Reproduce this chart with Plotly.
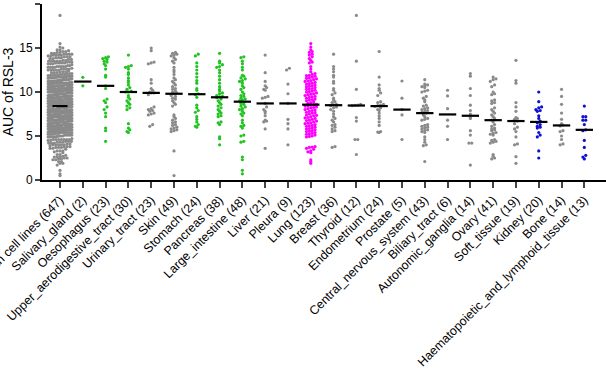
import numpy as np
import plotly.graph_objects as go

categories = ["Human cell lines", "Salivary_gland", "Oesophagus", "Upper_aerodigestive_tract",
              "Urinary_tract", "Skin", "Stomach", "Pancreas", "Large_intestine", "Liver", "Pleura",
              "Lung", "Breast", "Thyroid", "Endometrium", "Prostate", "Central_nervous_system",
              "Biliary_tract", "Autonomic_ganglia", "Ovary", "Soft_tissue", "Kidney", "Bone",
              "Haematopoietic_and_lymphoid_tissue"]

salivary = [11.67, 10.7]
oesophagus = [14.0, 13.9, 13.8, 13.7, 13.5, 13.4, 13.2, 13.0, 12.6, 11.9, 11.7, 10.7, 10.4, 9.2, 9.0,
              8.8, 8.3, 8.0, 7.6, 7.2, 5.9, 5.6, 4.4]
upper_aero = [14.2, 13.0, 12.9, 12.8, 12.6, 12.2, 12.0, 11.6, 11.3, 11.1, 10.8, 10.5, 10.3, 10.1, 10.0,
              10.0, 9.6, 9.4, 9.2, 9.0, 8.8, 8.6, 8.4, 8.2, 8.0, 6.4, 5.9, 5.7, 5.5, 5.4]
urinary = [15.0, 14.7, 13.4, 13.3, 13.2, 11.4, 11.0, 10.4, 10.2, 10.0, 9.9, 9.9, 9.7, 8.3, 8.1, 8.0,
           7.9, 7.8, 7.6, 7.5, 7.4, 6.3, 6.1]
skin = [14.5, 14.4, 14.3, 14.2, 14.1, 13.9, 13.7, 13.5, 13.3, 12.8, 12.5, 12.3, 12.0, 11.6, 11.4, 11.2,
        11.0, 10.8, 10.6, 10.4, 10.3, 10.1, 10.0, 9.9, 9.8, 9.6, 9.5, 9.3, 9.2, 9.0, 8.8, 8.6, 8.4,
        7.4, 7.2, 7.0, 6.8, 6.6, 6.5, 6.3, 6.2, 6.0, 5.9, 5.8, 5.7, 5.6, 5.5, 3.3, 0.5]
stomach = [14.3, 14.1, 13.3, 12.9, 12.5, 12.1, 11.7, 11.3, 11.0, 10.4, 10.2, 9.8, 9.7, 9.4, 8.5, 8.2,
           7.9, 7.7, 7.2, 6.9, 6.6, 6.3, 6.1, 6.0]
pancreas = [14.4, 13.5, 13.3, 13.1, 12.9, 12.8, 12.5, 12.2, 11.8, 11.4, 11.0, 10.6, 10.3, 10.1, 9.9,
            9.8, 9.6, 9.5, 9.45, 9.35, 9.2, 9.0, 8.8, 8.6, 8.4, 8.2, 8.0, 7.8, 7.6, 7.5, 7.3, 7.2,
            6.6, 6.5, 6.3, 4.9, 4.7, 4.0]
large_intestine = [14.0, 13.9, 13.5, 13.2, 12.8, 12.5, 11.9, 11.8, 11.6, 11.5, 11.3, 11.2, 11.0, 10.7,
                   10.5, 10.3, 10.0, 9.8, 9.6, 9.5, 9.3, 9.2, 9.1, 9.0, 8.8, 8.7, 8.6, 8.4, 8.3, 8.1,
                   8.0, 7.8, 7.6, 7.5, 7.3, 6.8, 6.5, 6.2, 6.1, 5.9, 5.1, 5.0, 4.4, 4.3, 2.6, 2.3,
                   1.1, 0.7]
liver = [14.2, 12.2, 11.2, 10.7, 10.5, 10.3, 10.2, 9.5, 9.4, 9.3, 8.7, 8.3, 8.0, 7.8, 7.6, 7.3, 6.8,
         6.7, 6.6, 5.8, 3.6]
pleura = [12.7, 12.5, 10.9, 9.8, 8.7, 6.9, 6.4, 5.8, 4.0]
lung = [15.5, 15.1, 14.8, 14.6, 14.5, 14.3, 14.2, 14.0, 13.8, 13.6, 13.4, 13.3, 12.9, 12.6, 12.3, 12.1,
        12.0, 11.9, 11.85, 11.8, 11.7, 11.6, 11.55, 11.5, 11.4, 11.3, 11.25, 11.2, 11.1, 11.0, 10.95,
        10.9, 10.8, 10.7, 10.65, 10.6, 10.5, 10.4, 10.35, 10.3, 10.2, 10.1, 10.05, 10.0, 9.9, 9.8,
        9.75, 9.7, 9.6, 9.5, 9.45, 9.4, 9.3, 9.2, 9.15, 9.1, 9.0, 8.9, 8.8, 8.7, 8.6, 8.56,
        8.5, 8.45, 8.4, 8.3, 8.25, 8.2, 8.1, 8.0, 7.95, 7.9, 7.8, 7.7, 7.65, 7.6, 7.5, 7.4, 7.35, 7.3,
        7.2, 7.1, 7.05, 7.0, 6.9, 6.8, 6.75, 6.7, 6.6, 6.5, 6.45, 6.4, 6.3, 6.2, 6.15, 6.1, 6.0, 5.9,
        5.85, 5.8, 5.7, 5.6, 5.55, 5.5, 5.4, 5.3, 5.25, 5.2, 5.1, 5.0, 4.95, 4.9,
        3.8, 3.75, 3.7, 3.6, 3.5, 3.3, 3.2, 3.1, 2.3, 2.1, 1.9]
breast = [14.3, 12.9, 12.6, 12.3, 11.9, 11.7, 11.2, 11.0, 10.4, 10.2, 9.9, 9.7, 9.3, 9.1, 8.9, 8.8,
          8.6, 8.55, 8.45, 8.3, 8.2, 8.0, 7.8, 7.5, 7.2, 7.0, 6.8, 6.6, 6.3, 6.2, 6.0, 5.8, 5.6, 5.5,
          3.8, 3.7]
thyroid = [18.7, 13.5, 10.3, 8.6, 8.5, 8.48, 8.45, 7.1, 6.7, 4.6, 4.6, 2.9]
endometrium = [14.6, 11.7, 10.8, 10.4, 10.2, 9.9, 9.6, 8.9, 8.8, 8.6, 8.5, 8.45, 8.35, 8.2, 8.0, 7.9,
               7.6, 7.3, 7.0, 6.6, 6.2, 5.5, 5.45, 5.4]
prostate = [11.25, 9.3, 8.0, 7.4, 4.6]
cns = [11.4, 10.9, 10.8, 10.7, 10.6, 10.5, 10.2, 10.1, 10.0, 9.5, 9.3, 9.1, 8.9, 8.5, 8.4, 8.2, 8.1,
       8.0, 7.9, 7.8, 7.7, 7.6, 7.4, 7.2, 7.0, 6.9, 6.8, 6.3, 6.2, 6.1, 6.0, 5.9, 5.8, 5.7, 5.6, 5.5,
       5.4, 4.9, 4.6, 4.3, 4.0, 3.9, 2.1]
biliary = [10.2, 9.55, 8.1, 6.8, 6.1, 4.6]
autonomic = [12.1, 11.8, 10.4, 9.6, 8.5, 7.9, 7.5, 7.1, 7.0, 5.6, 5.1, 4.2, 4.2, 1.7]
ovary = [11.7, 11.5, 11.4, 11.2, 10.8, 10.6, 10.0, 9.8, 9.7, 9.1, 9.0, 8.8, 8.7, 8.2, 8.0, 7.8, 7.6,
         7.4, 7.2, 7.0, 6.8, 6.6, 6.3, 6.1, 5.9, 5.8, 5.7, 5.6, 5.4, 5.3, 5.2, 5.1, 4.6, 4.5, 4.4,
         4.3, 4.2, 2.9, 2.7, 2.5, 2.4]
soft_tissue = [13.6, 11.3, 11.0, 8.8, 8.3, 7.8, 7.1, 7.0, 6.9, 6.7, 6.4, 6.0, 5.8, 5.5, 4.9, 4.1, 4.0,
               2.65, 1.9]
kidney = [10.0, 8.9, 8.3, 8.2, 8.0, 7.9, 7.8, 7.3, 7.0, 6.7, 6.5, 6.3, 6.1, 6.0, 5.9, 5.4, 5.1, 4.9,
          3.3, 2.5]
bone = [10.3, 9.5, 8.6, 7.6, 6.9, 6.4, 6.25, 6.15, 5.6, 5.5, 5.0, 4.6, 4.1, 4.0]
haem = [8.4, 7.2, 7.2, 6.8, 6.8, 6.3, 5.7, 5.6, 4.5, 3.7, 2.8, 2.6, 2.4]
# cell lines without an assigned lineage group (only in the pooled column)
unassigned = [9.0, 8.5, 7.8, 10.2, 6.5, 11.0, 12.4, 5.2, 8.0, 14.8]

groups = [salivary, oesophagus, upper_aero, urinary, skin, stomach, pancreas, large_intestine, liver,
          pleura, lung, breast, thyroid, endometrium, prostate, cns, biliary, autonomic, ovary,
          soft_tissue, kidney, bone, haem]
all_lines = [v for g in groups for v in g] + unassigned
series = [all_lines] + groups

GREY, GREEN, MAG, BLUE = "#8a8a8a", "#22c322", "#ff00ff", "#1010d0"
color_map = {"Salivary_gland": GREEN, "Oesophagus": GREEN, "Upper_aerodigestive_tract": GREEN,
             "Stomach": GREEN, "Pancreas": GREEN, "Large_intestine": GREEN, "Lung": MAG,
             "Kidney": BLUE, "Haematopoietic_and_lymphoid_tissue": BLUE}

labels = [f"{c} ({len(s)})" for c, s in zip(categories, series)]


def swarm(vals, bin_h=0.32, dx=0.125, maxhalf=0.42):
    vals = np.asarray(vals, float)
    order = np.argsort(vals)
    bins = {}
    for i in order:
        bins.setdefault(int(np.floor(vals[i] / bin_h)), []).append(i)
    off = np.zeros(len(vals))
    for idx in bins.values():
        n = len(idx)
        d = dx
        if n > 1 and (n - 1) * d / 2 > maxhalf:
            d = 2 * maxhalf / (n - 1)
        for k, i in enumerate(idx):
            off[i] = (k - (n - 1) / 2) * d
    return off


fig = go.Figure()
mx, my = [], []
for i, (c, s) in enumerate(zip(categories, series)):
    off = swarm(s, maxhalf=0.52 if i == 0 else 0.45)
    fig.add_trace(go.Scatter(x=i + off, y=s, mode="markers",
                             marker=dict(size=3.2, color=color_map.get(c, GREY)),
                             hoverinfo="skip", showlegend=False))
    med = float(np.median(s))
    hw = 0.33 if i == 0 else 0.38
    mx += [i - hw, i + hw, None]
    my += [med, med, None]

fig.add_trace(go.Scatter(x=mx, y=my, mode="lines", line=dict(color="black", width=2.2),
                         hoverinfo="skip", showlegend=False))

fig.update_layout(
    width=606, height=368,
    margin=dict(l=42, r=0, t=4, b=188),
    paper_bgcolor="white", plot_bgcolor="white",
    font=dict(family="Liberation Sans, Arial, sans-serif", color="black"),
    xaxis=dict(range=[-0.79, 23.95], tickmode="array", tickvals=list(range(len(labels))),
               ticktext=labels, tickangle=-45, ticks="outside", ticklen=6, tickwidth=2,
               showline=True, linewidth=2, linecolor="black", showgrid=False, zeroline=False,
               tickfont=dict(size=12.4), automargin=False, ticklabeloverflow="allow"),
    yaxis=dict(range=[0, 20], tickvals=[0, 5, 10, 15, 20], ticks="outside", ticklen=5, tickwidth=2,
               showline=True, linewidth=2, linecolor="black", showgrid=False, zeroline=False,
               tickfont=dict(size=12), title=dict(text="AUC of RSL-3", font=dict(size=14), standoff=3),
               automargin=False),
)

fig.write_html("out.html")
